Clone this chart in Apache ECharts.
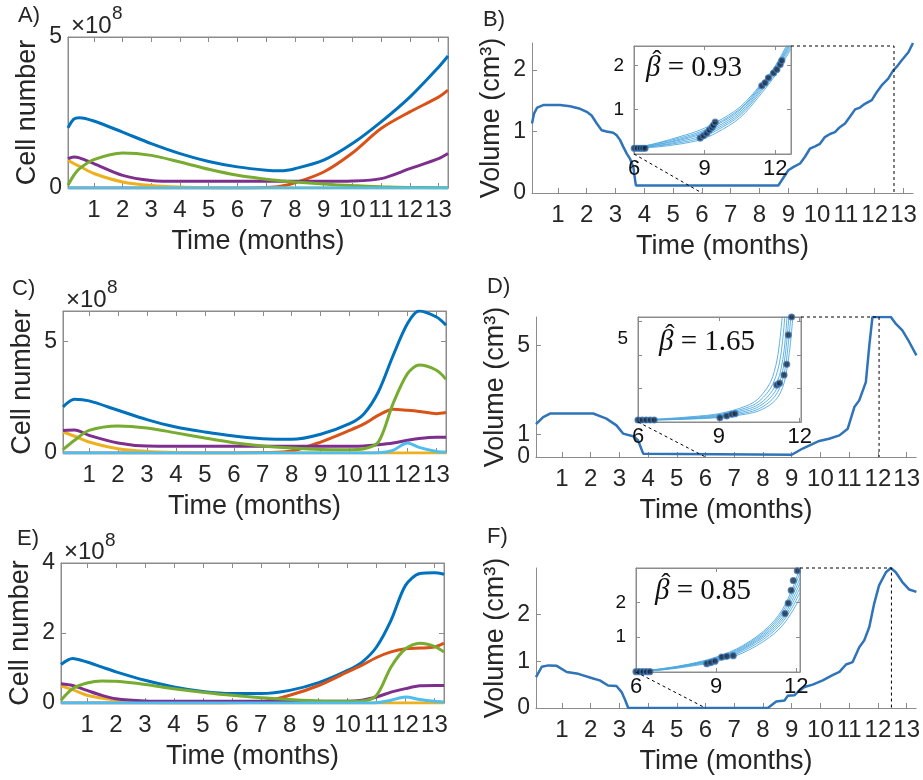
<!DOCTYPE html>
<html>
<head>
<meta charset="utf-8">
<script src="https://cdn.jsdelivr.net/npm/echarts@6/dist/echarts.min.js"></script>
<style>
  html, body { margin: 0; padding: 0; background: #fff; }
  #chart { width: 923px; height: 780px; }
</style>
</head>
<body>
<div id="chart"></div>
<script>
// ---------------- data ----------------
const months = [1, 2, 3, 4, 5, 6, 7, 8, 9, 10, 11, 12, 13];
const tStart = 0.1, tEnd = 13.33;

// Panel A: cell numbers (x 10^8)
const timeA  = [0.1, 0.3, 0.5, 1, 2, 3, 4, 5, 6, 7, 7.5, 8, 9, 10, 11, 12, 13, 13.33];
const totalA = [1.99, 2.28, 2.33, 2.22, 1.85, 1.47, 1.14, 0.88, 0.70, 0.59, 0.57, 0.64, 0.92, 1.47, 2.19, 3.01, 4.00, 4.37];
const pop1A  = [0, 0, 0, 0, 0, 0, 0, 0, 0, 0.02, 0.06, 0.17, 0.53, 1.16, 1.97, 2.52, 3.01, 3.24];
const pop2A  = [0.92, 0.81, 0.72, 0.48, 0.20, 0.08, 0.03, 0.01, 0, 0, 0, 0, 0, 0, 0, 0, 0, 0];
const pop3A  = [0.97, 1.03, 1.00, 0.81, 0.42, 0.25, 0.22, 0.22, 0.22, 0.22, 0.22, 0.22, 0.22, 0.23, 0.31, 0.64, 0.97, 1.14];
const pop4A  = [0.09, 0.42, 0.64, 0.94, 1.16, 1.08, 0.86, 0.62, 0.42, 0.29, 0.24, 0.20, 0.13, 0.08, 0.04, 0.02, 0.01, 0.01];
const pop5A  = [0, 0, 0, 0, 0, 0, 0, 0, 0, 0, 0, 0, 0, 0, 0, 0, 0, 0];

// Panel C: cell numbers (x 10^8)
const timeC  = [0.1, 0.5, 1, 2, 3, 4, 5, 6, 7, 8, 9, 10, 10.5, 11, 11.5, 12, 12.4, 13, 13.33];
const totalC = [2.06, 2.40, 2.33, 1.91, 1.49, 1.16, 0.94, 0.76, 0.64, 0.61, 0.84, 1.31, 1.76, 2.75, 4.35, 5.79, 6.35, 6.08, 5.72];
const pop1C  = [0, 0, 0, 0, 0, 0, 0, 0, 0.02, 0.09, 0.49, 1.01, 1.30, 1.69, 1.96, 1.91, 1.86, 1.76, 1.81];
const pop2C  = [0.94, 0.75, 0.49, 0.19, 0.07, 0.02, 0, 0, 0, 0, 0, 0, 0, 0, 0, 0, 0, 0, 0];
const pop3C  = [1.01, 1.03, 0.79, 0.45, 0.31, 0.30, 0.30, 0.30, 0.30, 0.30, 0.30, 0.30, 0.31, 0.37, 0.45, 0.57, 0.65, 0.70, 0.70];
const pop4C  = [0.15, 0.57, 1.01, 1.21, 1.12, 0.90, 0.67, 0.46, 0.31, 0.22, 0.16, 0.15, 0.19, 0.50, 2.21, 3.55, 3.93, 3.70, 3.30];
const pop5C  = [0, 0, 0, 0, 0, 0, 0, 0, 0, 0, 0, 0, 0, 0.01, 0.12, 0.45, 0.25, 0.07, 0.04];

// Panel E: cell numbers (x 10^8)
const timeE  = [0.1, 0.5, 1, 1.5, 2, 3, 4, 5, 6, 7, 8, 9, 10, 10.5, 11, 11.5, 12, 12.5, 13, 13.33];
const totalE = [1.10, 1.27, 1.17, 1.03, 0.89, 0.65, 0.46, 0.33, 0.27, 0.27, 0.36, 0.58, 0.93, 1.17, 1.60, 2.36, 3.36, 3.70, 3.72, 3.68];
const pop1E  = [0, 0, 0, 0, 0, 0, 0, 0, 0.01, 0.03, 0.22, 0.50, 0.89, 1.08, 1.30, 1.46, 1.55, 1.57, 1.60, 1.71];
const pop2E  = [0.49, 0.38, 0.22, 0.14, 0.08, 0.02, 0, 0, 0, 0, 0, 0, 0, 0, 0, 0, 0, 0, 0, 0];
const pop3E  = [0.55, 0.50, 0.36, 0.22, 0.12, 0.06, 0.05, 0.05, 0.05, 0.05, 0.05, 0.05, 0.05, 0.08, 0.17, 0.31, 0.41, 0.49, 0.50, 0.50];
const pop4E  = [0.08, 0.41, 0.57, 0.63, 0.62, 0.53, 0.41, 0.31, 0.22, 0.15, 0.10, 0.06, 0.05, 0.06, 0.22, 1.03, 1.55, 1.71, 1.62, 1.46];
const pop5E  = [0, 0, 0, 0, 0, 0, 0, 0, 0, 0, 0, 0, 0, 0, 0.01, 0.08, 0.17, 0.10, 0.05, 0.03];

// Panel B: tumour volume (cm^3)
const timeB = [0.1, 0.17, 0.28, 0.49, 1.07, 1.42, 1.77, 2.0, 2.17, 2.35, 2.52, 2.69, 2.92, 3.04, 3.16, 3.27, 3.39, 3.50, 3.62, 3.68,
               3.71, 8.65, 9.0, 9.17, 9.41, 9.58, 9.75, 9.93, 10.10, 10.27, 10.45, 10.62, 10.79, 10.97, 11.14, 11.32, 11.49, 11.66, 11.90, 12.07,
               12.24, 12.47, 12.64, 12.76, 12.94, 13.17, 13.33];
const volB  = [1.13, 1.29, 1.39, 1.43, 1.43, 1.41, 1.37, 1.32, 1.26, 1.13, 1.02, 1.00, 0.98, 0.94, 0.86, 0.75, 0.64, 0.56, 0.42, 0.21,
               0.12, 0.12, 0.37, 0.42, 0.48, 0.59, 0.72, 0.76, 0.80, 0.91, 0.96, 0.99, 1.07, 1.13, 1.24, 1.36, 1.39, 1.45, 1.51, 1.64,
               1.75, 1.86, 1.99, 2.05, 2.16, 2.29, 2.44];
const fitTimeB = [6, 7, 8, 8.8, 9.5, 10.5, 11.4, 12, 12.67];
const fitsB = [
  [0.13, 0.16, 0.23, 0.32, 0.48, 0.82, 1.36, 1.78, 2.38],
  [0.13, 0.18, 0.26, 0.36, 0.53, 0.87, 1.41, 1.83, 2.43],
  [0.13, 0.19, 0.29, 0.40, 0.57, 0.91, 1.45, 1.87, 2.48],
  [0.13, 0.21, 0.32, 0.44, 0.61, 0.95, 1.49, 1.90, 2.52],
  [0.13, 0.22, 0.34, 0.47, 0.65, 0.99, 1.52, 1.93, 2.55],
  [0.13, 0.24, 0.37, 0.50, 0.68, 1.02, 1.55, 1.96, 2.60],
  [0.13, 0.25, 0.40, 0.54, 0.72, 1.06, 1.58, 1.99, 2.65]
];
const obsTimeB = [6.01, 6.14, 6.26, 6.37, 6.47, 8.81, 8.95, 9.09, 9.20, 9.31, 9.37, 9.45, 11.43, 11.57, 11.71, 11.93, 12.07, 12.21, 12.28];
const obsVolB  = [0.13, 0.13, 0.13, 0.13, 0.13, 0.36, 0.41, 0.47, 0.54, 0.60, 0.65, 0.72, 1.54, 1.61, 1.72, 1.83, 1.91, 2.02, 2.11];

// Panel D: tumour volume (cm^3)
const timeD = [0.1, 0.35, 0.59, 2.09, 2.55, 2.90, 3.13, 3.48, 3.65, 3.83, 3.88, 9.0, 9.38, 9.96, 10.3, 10.66, 10.95, 11.18, 11.35, 11.58,
               11.70, 11.81, 12.45, 12.62, 12.85, 13.09, 13.34];
const volD  = [1.47, 1.79, 1.95, 1.95, 1.72, 1.42, 1.05, 0.93, 0.75, 0.15, 0.10, 0.10, 0.38, 0.72, 0.82, 0.97, 1.27, 2.24, 2.54, 3.36,
               5.0, 6.28, 6.28, 5.98, 5.68, 5.16, 4.56];
const fitTimeD = [6, 7, 8, 9, 10, 10.5, 11, 11.3, 11.5, 11.7, 11.9];
const fitsD = [
  [0.12, 0.20, 0.32, 0.50, 0.95, 1.45, 2.70, 5.4, 10.0, null, null],
  [0.12, 0.18, 0.28, 0.45, 0.84, 1.25, 2.25, 4.0, 7.5, null, null],
  [0.12, 0.16, 0.25, 0.40, 0.74, 1.08, 1.90, 3.1, 5.6, 11.0, null],
  [0.12, 0.15, 0.22, 0.35, 0.64, 0.94, 1.62, 2.6, 4.5, 8.5, null],
  [0.12, 0.14, 0.20, 0.30, 0.55, 0.80, 1.38, 2.2, 3.6, 6.8, null],
  [0.12, 0.13, 0.18, 0.26, 0.47, 0.68, 1.15, 1.8, 2.9, 5.4, 10.0]
];
const obsTimeD = [6.0, 6.15, 6.3, 6.45, 6.6, 9.04, 9.29, 9.48, 9.6, 11.15, 11.25, 11.42, 11.52, 11.58, 11.70];
const obsVolD  = [0.12, 0.12, 0.12, 0.12, 0.12, 0.26, 0.36, 0.46, 0.50, 2.22, 2.32, 2.81, 3.45, 5.21, 6.28];

// Panel F: tumour volume (cm^3)
const timeF = [0.1, 0.30, 0.53, 0.82, 1.17, 1.57, 2.09, 2.32, 2.61, 2.90, 3.08, 3.21, 3.31, 8.17, 8.46, 8.75, 8.86, 9.09, 9.21, 9.44,
               9.73, 10.08, 10.42, 10.66, 10.89, 11.12, 11.35, 11.52, 11.70, 11.87, 12.04, 12.28, 12.45, 12.62, 12.85, 13.09, 13.34];
const volF  = [0.66, 0.88, 0.91, 0.90, 0.77, 0.73, 0.63, 0.59, 0.48, 0.47, 0.34, 0.16, 0, 0, 0.14, 0.16, 0.26, 0.27, 0.34, 0.45,
               0.50, 0.59, 0.70, 0.77, 0.93, 0.98, 1.30, 1.44, 1.73, 2.23, 2.62, 2.90, 2.99, 2.90, 2.69, 2.53, 2.48];
const fitTimeF = [6, 7, 8, 9, 10, 11, 11.6, 12.14];
const fitsF = [
  [0.01, 0.06, 0.16, 0.30, 0.55, 1.00, 1.45, 2.13],
  [0.01, 0.07, 0.18, 0.33, 0.60, 1.07, 1.55, 2.28],
  [0.01, 0.08, 0.19, 0.35, 0.64, 1.13, 1.63, 2.42],
  [0.01, 0.08, 0.20, 0.37, 0.67, 1.18, 1.71, 2.56],
  [0.01, 0.09, 0.21, 0.39, 0.70, 1.23, 1.80, 2.70],
  [0.01, 0.09, 0.22, 0.41, 0.73, 1.28, 1.88, 2.85],
  [0.01, 0.10, 0.23, 0.43, 0.76, 1.33, 1.96, 3.00]
];
const obsTimeF = [6.0, 6.13, 6.26, 6.39, 6.52, 8.65, 8.8, 8.96, 9.21, 9.40, 9.64, 11.58, 11.70, 11.81, 11.89, 12.04];
const obsVolF  = [0.01, 0.01, 0.01, 0.01, 0.01, 0.24, 0.27, 0.31, 0.43, 0.45, 0.47, 1.68, 1.98, 2.35, 2.63, 2.91];

const betaLabels = ['0.93', '1.65', '0.85'];

// ---------------- styling ----------------
const FONT = '"Liberation Sans", Arial, Helvetica, sans-serif';
const SERIF = '"Liberation Serif", "DejaVu Serif", serif';
const GRAY = '#8c8c8c';
const TEXT = '#262626';
const CELL_COLORS = ['#0072BD', '#D95319', '#EDB120', '#7E2F8E', '#77AC30', '#4DBEEE'];
const VOL_COLOR = '#2f73b9';
const FIT_COLOR = '#4fa9e0';

const grids = [], xAxes = [], yAxes = [], series = [];
const zip = (xs, ys) => xs.map((x, i) => [x, ys[i]]).filter(p => p[1] !== null);

function xAxisDef(g, min, max, opts) {
  return Object.assign({
    gridIndex: g, type: 'value', min: min, max: max, position: 'bottom',
    axisLine: { show: true, onZero: false, lineStyle: { color: GRAY, width: 1 } },
    axisTick: { show: true, inside: true, length: 5, customValues: months, lineStyle: { color: GRAY } },
    axisLabel: { show: true, customValues: months, fontSize: 24, color: TEXT, fontFamily: FONT, margin: 10, hideOverlap: false },
    splitLine: { show: false }
  }, opts || {});
}
function yAxisDef(g, max, ticks, opts) {
  return Object.assign({
    gridIndex: g, type: 'value', min: 0, max: max, position: 'left',
    axisLine: { show: true, onZero: false, lineStyle: { color: GRAY, width: 1 } },
    axisTick: { show: true, inside: true, length: 5, customValues: ticks, lineStyle: { color: GRAY } },
    axisLabel: { show: true, customValues: ticks, fontSize: 23, color: TEXT, fontFamily: FONT, margin: 6, hideOverlap: false },
    splitLine: { show: false }
  }, opts || {});
}
const timeName = {
  name: 'Time (months)', nameLocation: 'middle', nameGap: 40,
  nameTextStyle: { fontSize: 27, color: TEXT, fontFamily: FONT }
};
function yName(text) {
  return { name: text, nameLocation: 'middle', nameGap: 27,
           nameTextStyle: { fontSize: 27, color: TEXT, fontFamily: FONT } };
}

// Cell-population panels (boxed axes)
function addCellPanel(box, ymax, yticks, time, lines) {
  const g = grids.length;
  grids.push({ left: box[0], top: box[1], width: box[2], height: box[3], show: true,
               borderColor: GRAY, borderWidth: 1, backgroundColor: 'transparent' });
  const xi = xAxes.length;
  xAxes.push(xAxisDef(g, tStart, tEnd, timeName));
  xAxes.push(xAxisDef(g, tStart, tEnd, { position: 'top', axisLabel: { show: false } }));
  const yi = yAxes.length;
  yAxes.push(yAxisDef(g, ymax, yticks, yName('Cell number')));
  yAxes.push(yAxisDef(g, ymax, yticks, { position: 'right', axisLabel: { show: false } }));
  lines.forEach((vals, k) => {
    series.push({
      type: 'line', xAxisIndex: xi, yAxisIndex: yi, data: zip(time, vals),
      smooth: 0.3, showSymbol: false, silent: true, z: 2,
      lineStyle: { width: 3, color: CELL_COLORS[k] }, itemStyle: { color: CELL_COLORS[k] }
    });
  });
}

// Volume panels with a zoomed inset of the fitted regrowth
const volumeRefs = [];
function addVolumePanel(box, ymax, yticks, ylabels, time, vol, inset) {
  const g = grids.length;
  grids.push({ left: box[0], top: box[1], width: box[2], height: box[3] });
  const mx = xAxes.length;
  xAxes.push(xAxisDef(g, tStart, tEnd, timeName));
  const my = yAxes.length;
  yAxes.push(yAxisDef(g, ymax, yticks, Object.assign(yName('Volume (cm³)'), {
    axisLabel: { show: true, customValues: ylabels, fontSize: 23, color: TEXT, fontFamily: FONT, margin: 6, hideOverlap: false }
  })));
  // the zero label sits on its own axis so that close-by labels never suppress it
  yAxes.push(yAxisDef(g, ymax, [0], {
    axisLine: { show: false }, axisTick: { show: false },
    axisLabel: { show: true, customValues: [0], fontSize: 23, color: TEXT, fontFamily: FONT, margin: 6 }
  }));
  series.push({
    type: 'line', xAxisIndex: mx, yAxisIndex: my, data: zip(time, vol),
    showSymbol: false, silent: true, z: 2,
    lineStyle: { width: 2.5, color: VOL_COLOR }, itemStyle: { color: VOL_COLOR }
  });

  const ig = grids.length;
  const b = inset.box;
  grids.push({ left: b[0], top: b[1], width: b[2], height: b[3], show: true, z: 10,
               backgroundColor: '#ffffff', borderColor: GRAY, borderWidth: 1 });
  const inTicksX = [6, 9, 12];
  const ix = xAxes.length;
  const small = { z: 12 };
  xAxes.push(xAxisDef(ig, 6, inset.xmax, Object.assign({
    axisTick: { show: true, inside: true, length: 4, customValues: inTicksX, lineStyle: { color: GRAY } },
    axisLabel: { show: true, customValues: inTicksX, fontSize: 22, color: '#111', fontFamily: FONT, margin: 4, hideOverlap: false }
  }, small)));
  xAxes.push(xAxisDef(ig, 6, inset.xmax, Object.assign({
    position: 'top',
    axisTick: { show: true, inside: true, length: 4, customValues: inTicksX, lineStyle: { color: GRAY } },
    axisLabel: { show: false }
  }, small)));
  const iy = yAxes.length;
  yAxes.push(yAxisDef(ig, ymax, inset.yticks, Object.assign({
    axisTick: { show: true, inside: true, length: 4, customValues: inset.yticks, lineStyle: { color: GRAY } },
    axisLabel: { show: true, customValues: inset.ylabels, fontSize: 19, color: '#111', fontFamily: FONT, margin: 10, hideOverlap: false }
  }, small)));
  yAxes.push(yAxisDef(ig, ymax, inset.yticks, Object.assign({
    position: 'right',
    axisTick: { show: true, inside: true, length: 4, customValues: inset.yticks, lineStyle: { color: GRAY } },
    axisLabel: { show: false }
  }, small)));

  inset.fits.forEach(vals => {
    series.push({
      type: 'line', xAxisIndex: ix, yAxisIndex: iy, data: zip(inset.fitTime, vals),
      smooth: 0.35, showSymbol: false, silent: true, z: 11,
      lineStyle: { width: 1, color: FIT_COLOR, opacity: 0.9 }
    });
  });
  series.push({
    type: 'scatter', xAxisIndex: ix, yAxisIndex: iy, data: zip(inset.obsTime, inset.obsVol),
    symbolSize: 6, silent: true, z: 13,
    itemStyle: { color: '#1c2331', borderColor: '#3b7dc4', borderWidth: 1.2 }
  });
  volumeRefs.push({ mx: mx, my: my, ix: ix, iy: iy, xmax: inset.xmax, ymax: ymax, zoomX: inset.zoomX });
}

addCellPanel([68, 37, 380, 151], 5, [0, 5], timeA, [totalA, pop1A, pop2A, pop3A, pop4A, pop5A]);
addCellPanel([63, 311, 383, 142], 6.35, [0, 5], timeC, [totalC, pop1C, pop2C, pop3C, pop4C, pop5C]);
addCellPanel([61, 563, 383, 140], 4, [0, 2, 4], timeE, [totalE, pop1E, pop2E, pop3E, pop4E, pop5E]);

addVolumePanel([532, 43, 381, 150], 2.44, [0, 1, 2], [1, 2], timeB, volB, {
  box: [634, 46, 157, 108], xmax: 12.67, zoomX: 12.67, yticks: [1, 2], ylabels: [1, 2],
  fitTime: fitTimeB, fits: fitsB, obsTime: obsTimeB, obsVol: obsVolB
});
addVolumePanel([536, 317, 381, 140], 6.28, [0, 1, 5], [1, 5], timeD, volD, {
  box: [638, 317, 163, 105], xmax: 12.05, zoomX: 12.04, yticks: [2, 4, 6], ylabels: [5],
  fitTime: fitTimeD, fits: fitsD, obsTime: obsTimeD, obsVol: obsVolD
});
addVolumePanel([536, 568, 381, 140], 2.99, [0, 1, 2], [1, 2], timeF, volF, {
  box: [636, 568, 164, 104], xmax: 12.14, zoomX: 12.47, yticks: [1, 2], ylabels: [1, 2],
  fitTime: fitTimeF, fits: fitsF, obsTime: obsTimeF, obsVol: obsVolF
});

// ---------------- text annotations ----------------
function label(text, x, y, size, extra) {
  return Object.assign({
    type: 'text', x: x, y: y, z: 30, silent: true,
    style: { text: text, fontSize: size, fill: TEXT, fontFamily: FONT, align: 'left', verticalAlign: 'middle' }
  }, extra || {});
}
const texts = [
  label('A)', 18, 16, 22), label('B)', 483, 20, 22),
  label('C)', 12, 289, 22), label('D)', 487, 287, 22),
  label('E)', 17, 539, 22), label('F)', 487, 537, 22),
  label('×10', 71, 26, 24), label('8', 112, 14, 19),
  label('×10', 66, 300, 24), label('8', 107, 288, 19),
  label('×10', 64, 552, 24), label('8', 105, 541, 19)
];
// estimated growth exponent, written as beta-hat = value
const betaPos = [[646, 68], [659, 342], [655, 591]];
betaPos.forEach((p, i) => {
  texts.push({
    type: 'text', x: p[0], y: p[1], z: 30, silent: true,
    style: {
      text: '{b|β} = ' + betaLabels[i],
      fontSize: 29, fill: '#111', fontFamily: SERIF, align: 'left', verticalAlign: 'middle',
      rich: { b: { fontSize: 29, fontStyle: 'italic', fontFamily: SERIF, fill: '#111' } }
    }
  });
  texts.push({
    type: 'text', x: p[0] + 11, y: p[1] - 6, z: 30, silent: true,
    style: { text: 'ˆ', fontSize: 28, fill: '#111', fontFamily: SERIF, align: 'center', verticalAlign: 'middle' }
  });
});

const chart = echarts.init(document.getElementById('chart'), null, { renderer: 'canvas' });
chart.setOption({
  animation: false,
  backgroundColor: '#ffffff',
  grid: grids, xAxis: xAxes, yAxis: yAxes, series: series
});

// dotted guides linking each inset to its zoom window in the main axes
const dash = { stroke: '#000', lineWidth: 1, lineDash: [3, 3], fill: null };
const guides = [];
volumeRefs.forEach(r => {
  const a = chart.convertToPixel({ xAxisIndex: r.ix, yAxisIndex: r.iy }, [6, 0]);
  const b = chart.convertToPixel({ xAxisIndex: r.mx, yAxisIndex: r.my }, [6, 0]);
  const c = chart.convertToPixel({ xAxisIndex: r.ix, yAxisIndex: r.iy }, [r.xmax, r.ymax]);
  const d = chart.convertToPixel({ xAxisIndex: r.mx, yAxisIndex: r.my }, [r.zoomX, 0]);
  guides.push({ type: 'line', z: 20, silent: true, shape: { x1: a[0], y1: a[1], x2: b[0], y2: b[1] }, style: dash });
  guides.push({ type: 'polyline', z: 20, silent: true, shape: { points: [c, [d[0], c[1]], d] }, style: dash });
});
chart.setOption({ graphic: texts.concat(guides) });
</script>
</body>
</html>
